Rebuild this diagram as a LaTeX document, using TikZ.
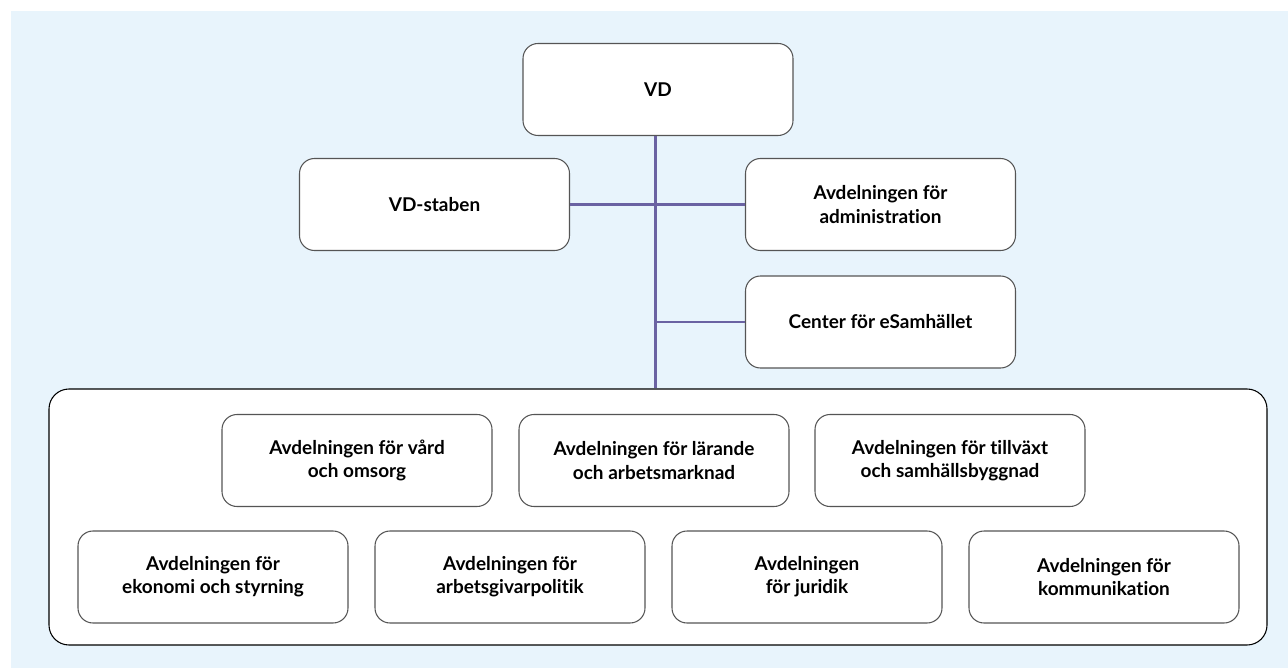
\documentclass[tikz,border=0pt]{standalone}
\usepackage{fontspec}
\setmainfont{Lato}[Ligatures={NoCommon}]
\usepackage{tikz}

\definecolor{bgblue}{HTML}{E8F4FC}
\definecolor{linkline}{HTML}{6A62A2}
\definecolor{boxline}{HTML}{555555}

\tikzset{
  unit/.style={draw=boxline, line width=0.6pt, fill=white, rounded corners=0.3cm,
    minimum width=5.4cm, minimum height=1.84cm, align=center,
    font=\bfseries\fontsize{10.8}{13.2}\selectfont},
  group/.style={draw=black, line width=0.6pt, fill=white, rounded corners=0.4cm,
    minimum width=24.36cm, minimum height=5.12cm},
  link/.style={draw=linkline, line width=1.7pt}
}

\begin{document}
\begin{tikzpicture}
	\useasboundingbox (0, 0) rectangle (25.76, 13.36);
	\fill[bgblue] (0.22, 0) rectangle (25.76, 13.14);

	\draw (13.16, 3.02) 	node[group] 	(all) 		{};
	\draw (13.16, 11.57) 	node[unit] 	(vd) 		{VD};
	\draw (8.69, 9.27) 	node[unit] 	(staben) 	{VD-staben};
	\draw (17.61, 9.27) 	node[unit] 	(admin) 	{Avdelningen för\\administration};
	\draw (17.61, 6.92) 	node[unit] 	(esam) 		{Center för eSamhället};

	\draw (7.14, 4.15) 	node[unit] 	(vard) 		{Avdelningen för vård\\och omsorg};
	\draw (13.08, 4.15) 	node[unit] 	(larande) 	{Avdelningen för lärande\\och arbetsmarknad};
	\draw (19.00, 4.15) 	node[unit] 	(tillvaxt) 	{Avdelningen för tillväxt\\och samhällsbyggnad};
	\draw (4.26, 1.82) 	node[unit] 	(ekonomi) 	{Avdelningen för\\ekonomi och styrning};
	\draw (10.20, 1.82) 	node[unit] 	(agpol) 	{Avdelningen för\\arbetsgivarpolitik};
	\draw (16.14, 1.82) 	node[unit] 	(juridik) 	{Avdelningen\\för juridik};
	\draw (22.08, 1.82) 	node[unit] 	(komm) 		{Avdelningen för\\kommunikation};

	\coordinate (trunk) at ([xshift=-0.05cm]vd.south);
	\draw[link] (trunk) -- (trunk |- all.north);
	\draw[link] (staben.east) -- (admin.west);
	\draw[link] (esam.west) -- (esam.west -| trunk);
\end{tikzpicture}
\end{document}
